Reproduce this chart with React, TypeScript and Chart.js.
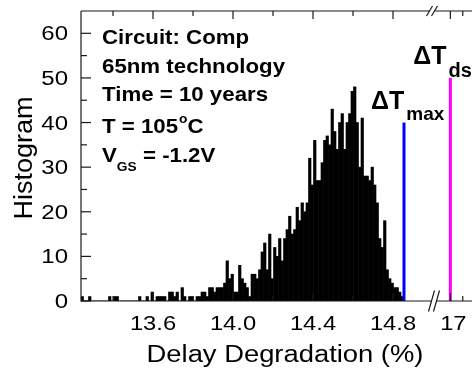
import React, { useEffect, useRef } from 'react';
import { Chart, registerables } from 'chart.js';

Chart.register(...registerables);

// ---------- data ----------
const BIN_START = 13.24;
const BIN_WIDTH = 0.0125;
const COUNTS = [
  1, 0, 0, 1, 0, 0, 0, 0, 0, 0,
  0, 1, 0, 1, 1, 0, 0, 0, 0, 0,
  0, 0, 0, 1, 0, 0, 1, 0, 2, 0,
  1, 1, 1, 1, 0, 2, 2, 1, 2, 0,
  3, 1, 0, 1, 1, 0, 1, 1, 2, 2,
  1, 3, 3, 2, 3, 3, 3, 4, 9, 5,
  6, 2, 2, 8, 5, 4, 3, 1, 6, 6,
  5, 7, 11, 13, 7, 15, 5, 12, 10, 14,
  9, 14, 16, 19, 15, 16, 21, 18, 22, 20,
  22, 32, 26, 36, 27, 27, 31, 36, 37, 35,
  43, 38, 34, 40, 42, 34, 40, 42, 47, 48,
  40, 30, 41, 28, 28, 27, 30, 26, 22, 14,
  12, 18, 7, 5, 4, 3, 3, 2, 1,
];
const MAX_LINE_X = 14.855;
const MAX_LINE_Y = 40;
const DS_LINE_X = 17.0;
const DS_LINE_Y = 50;

const X_MAJOR_TICKS = [13.6, 14.0, 14.4, 14.8, 17];
const X_TICK_LABELS = ['13.6', '14.0', '14.4', '14.8', '17'];
const X_MINOR_TICKS = [13.4, 13.8, 14.2, 14.6, 17.05];
const Y_MAJOR_TICKS = [0, 10, 20, 30, 40, 50, 60];
const Y_MINOR_TICKS = [5, 15, 25, 35, 45, 55];

const BREAK_FROM = 15.0;
const BREAK_TO = 16.93;
const RIGHT_STRETCH = 1.24;

const INFO_LINES = ['Circuit: Comp', '65nm technology', 'Time = 10 years'];
const X_TITLE = 'Delay Degradation (%)';
const Y_TITLE = 'Histogram';

// maps a real value onto the broken axis
const toAxis = (v: number) => (v <= BREAK_FROM ? v : BREAK_FROM + (v - BREAK_TO) * RIGHT_STRETCH);

const FONT = '"Liberation Sans", Arial, Helvetica, sans-serif';

function txt(ctx: CanvasRenderingContext2D, s: string, x: number, y: number, font: string, sx = 1, align: CanvasTextAlign = 'left') {
  ctx.save();
  ctx.font = font;
  ctx.textAlign = align;
  ctx.textBaseline = 'alphabetic';
  ctx.fillStyle = '#000';
  ctx.translate(x, y);
  ctx.scale(sx, 1);
  ctx.fillText(s, 0, 0);
  const w = ctx.measureText(s).width * sx;
  ctx.restore();
  return w;
}

const framePlugin = {
  id: 'frame',
  afterDraw(chart: any) {
    const { ctx, chartArea: ca, scales } = chart;
    const xs = scales.x;
    const ys = scales.y;
    const bx = xs.getPixelForValue(BREAK_FROM);
    ctx.save();
    ctx.strokeStyle = '#1a1a1a';
    ctx.lineWidth = 1.2;
    const line = (x1: number, y1: number, x2: number, y2: number) => {
      ctx.beginPath();
      ctx.moveTo(x1, y1);
      ctx.lineTo(x2, y2);
      ctx.stroke();
    };
    line(ca.left, ca.top, ca.left, ca.bottom + 0.6);
    line(ca.left, ca.bottom, ca.right, ca.bottom);
    line(ca.left, ca.top, ca.right, ca.top);
    Y_MAJOR_TICKS.forEach((v) => {
      const p = ys.getPixelForValue(v);
      line(ca.left, p, ca.left + 10, p);
    });
    Y_MINOR_TICKS.forEach((v) => {
      const p = ys.getPixelForValue(v);
      line(ca.left, p, ca.left + 6, p);
    });
    X_MAJOR_TICKS.forEach((v) => {
      const p = xs.getPixelForValue(toAxis(v));
      line(p, ca.bottom, p, ca.bottom - 8);
      line(p, ca.top, p, ca.top + 8);
    });
    X_MINOR_TICKS.forEach((v) => {
      const p = xs.getPixelForValue(toAxis(v));
      line(p, ca.bottom, p, ca.bottom - 5);
      line(p, ca.top, p, ca.top + 5);
    });
    const drawBreak = (cx: number, cy: number, h: number) => {
      ctx.fillStyle = '#fff';
      ctx.fillRect(cx - 2.5, cy - 1.5, 5, 3);
      line(cx - 2.5 - 3, cy + h, cx - 2.5 + 3, cy - h);
      line(cx + 2.5 - 3, cy + h, cx + 2.5 + 3, cy - h);
    };
    drawBreak(bx + 1, ca.bottom, 10.5);
    drawBreak(bx - 1, ca.top, 5);
    ctx.restore();

    const tickFont = `20px ${FONT}`;
    Y_MAJOR_TICKS.forEach((v) => {
      const p = ys.getPixelForValue(v);
      txt(ctx, String(v), ca.left - 13, p + 7, tickFont, 1.2, 'right');
    });
    X_MAJOR_TICKS.forEach((v, i) => {
      const p = xs.getPixelForValue(toAxis(v));
      txt(ctx, X_TICK_LABELS[i], p + (v > BREAK_FROM ? 3 : 0), ca.bottom + 29, `21px ${FONT}`, 1.13, 'center');
    });
    txt(ctx, X_TITLE, 285, 361.5, `23px ${FONT}`, 1.19, 'center');
    ctx.save();
    ctx.translate(31.5, 158);
    ctx.rotate(-Math.PI / 2);
    txt(ctx, Y_TITLE, 0, 0, `26px ${FONT}`, 1.04, 'center');
    ctx.restore();

    const bold = `bold 21px ${FONT}`;
    const small = `bold 13px ${FONT}`;
    const lx = ca.left + 21;
    const bases = [44, 72.5, 100.5, 133.3, 161.5];
    INFO_LINES.forEach((s, i) => txt(ctx, s, lx, bases[i], bold, 1.06));
    let w = txt(ctx, 'T = 105', lx, bases[3], bold, 1.06);
    const wo = txt(ctx, 'o', lx + w + 1, bases[3] - 10, small, 1.06);
    txt(ctx, 'C', lx + w + wo + 1, bases[3], bold, 1.06);
    w = txt(ctx, 'V', lx, bases[4], bold, 1.06);
    const wg = txt(ctx, 'GS', lx + w, bases[4] + 9, small, 1.06);
    txt(ctx, ' = -1.2V', lx + w + wg, bases[4], bold, 1.06);

    const mx = xs.getPixelForValue(toAxis(MAX_LINE_X));
    const dx = xs.getPixelForValue(toAxis(DS_LINE_X));
    const dw1 = txt(ctx, 'ΔT', mx - 33, 108.5, `bold 25px ${FONT}`, 1.0);
    txt(ctx, 'max', mx - 33 + dw1 + 2, 120, `bold 19px ${FONT}`, 1.0);
    const dw2 = txt(ctx, 'ΔT', dx - 37, 64, `bold 25px ${FONT}`, 1.0);
    txt(ctx, 'ds', dx - 37 + dw2 + 2, 76.5, `bold 20px ${FONT}`, 1.0);
  },
};

export default function App() {
  const ref = useRef<HTMLCanvasElement | null>(null);
  useEffect(() => {
    if (!ref.current) return;
    const bars = COUNTS.map((c, i) => ({ x: BIN_START + (i + 0.5) * BIN_WIDTH, y: c }));
    const chart = new Chart(ref.current, {
      data: {
        datasets: [
          {
            type: 'line',
            data: [
              { x: toAxis(MAX_LINE_X), y: 0 },
              { x: toAxis(MAX_LINE_X), y: MAX_LINE_Y },
            ],
            borderColor: '#0000ff',
            borderWidth: 3,
            pointRadius: 0,
            order: 0,
          },
          {
            type: 'line',
            data: [
              { x: toAxis(DS_LINE_X), y: 0 },
              { x: toAxis(DS_LINE_X), y: DS_LINE_Y },
            ],
            borderColor: '#ff00ff',
            borderWidth: 3,
            pointRadius: 0,
            order: 0,
          },
          {
            type: 'bar',
            data: bars,
            backgroundColor: '#000',
            borderWidth: 0,
            barPercentage: 1,
            categoryPercentage: 1,
            order: 1,
          },
        ],
      } as any,
      options: {
        animation: false,
        responsive: false,
        devicePixelRatio: 1,
        layout: { padding: { top: 11, left: 0, right: 0, bottom: 0 } },
        plugins: { legend: { display: false }, tooltip: { enabled: false } },
        scales: {
          x: {
            type: 'linear',
            min: 13.24,
            max: 15.235,
            offset: false,
            bounds: 'data',
            grid: { display: false, offset: false },
            border: { display: false },
            ticks: { display: false },
            afterFit: (s: any) => {
              s.height = 67;
            },
          },
          y: {
            type: 'linear',
            min: 0,
            max: 65,
            grid: { display: false },
            border: { display: false },
            ticks: { display: false },
            afterFit: (s: any) => {
              s.width = 81;
            },
          },
        },
      } as any,
      plugins: [framePlugin],
    });
    return () => chart.destroy();
  }, []);
  return (
    <div style={{ position: 'fixed', left: 0, top: 0, width: 472, height: 368, overflow: 'hidden', background: '#fff' }}>
      <canvas ref={ref} width={480} height={368} style={{ display: 'block', width: 480, height: 368 }} />
    </div>
  );
}
